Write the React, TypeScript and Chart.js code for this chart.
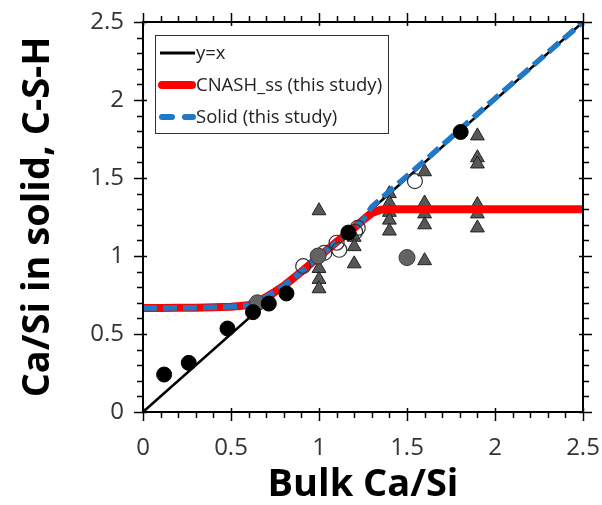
import React, { useEffect, useRef } from 'react';
import { Chart, registerables } from 'chart.js';

Chart.register(...registerables);

// ---- data ----
const identityX = [0, 2.5];
const identityY = [0, 2.5];

const curveX = [0, 0.1, 0.2, 0.3, 0.4, 0.5, 0.55, 0.6, 0.65, 0.7, 0.75, 0.8, 0.9, 1.0, 1.1, 1.2, 1.25, 1.3, 1.35, 1.4, 1.6, 2.0, 2.5];
const cnashY = [0.667, 0.667, 0.668, 0.669, 0.671, 0.675, 0.679, 0.685, 0.705, 0.738, 0.772, 0.808, 0.9, 0.995, 1.09, 1.18, 1.23, 1.275, 1.297, 1.3, 1.3, 1.3, 1.3];
const solidY = [0.667, 0.667, 0.668, 0.669, 0.671, 0.675, 0.679, 0.685, 0.705, 0.738, 0.772, 0.808, 0.9, 0.995, 1.09, 1.18, 1.23, 1.315, 1.365, 1.415, 1.61, 2.01, 2.5];

const blackX = [0.12, 0.26, 0.48, 0.625, 0.715, 0.815, 1.167, 1.805];
const blackY = [0.24, 0.315, 0.535, 0.64, 0.695, 0.76, 1.15, 1.795];

const grayX = [0.65, 0.995, 1.5];
const grayY = [0.7, 1.0, 0.99];

const openX = [0.91, 1.03, 1.1, 1.115, 1.205, 1.22, 1.545];
const openY = [0.935, 1.02, 1.085, 1.04, 1.155, 1.18, 1.48];

const triX = [1.0, 1.0, 1.0, 1.0, 1.2, 1.2, 1.2, 1.4, 1.4, 1.4, 1.4, 1.4, 1.6, 1.6, 1.6, 1.6, 1.6, 1.9, 1.9, 1.9, 1.9, 1.9, 1.9];
const triY = [1.29, 0.92, 0.85, 0.79, 1.12, 1.06, 0.95, 1.4, 1.34, 1.28, 1.23, 1.16, 1.54, 1.34, 1.27, 1.2, 0.97, 1.77, 1.63, 1.59, 1.33, 1.27, 1.18];

const axisMin = 0;
const axisMax = 2.5;
const majorStep = 0.5;
const minorStep = 0.1;

const legendLabels = ['y=x', 'CNASH_ss (this study)', 'Solid (this study)'];
const xTitle = 'Bulk Ca/Si';
const yTitle = 'Ca/Si in solid, C-S-H';

const RED = '#ff0000';
const BLUE = '#1f78c8';

const pts = (xs: number[], ys: number[]) => xs.map((x, i) => ({ x, y: ys[i] }));
const fmt = (v: any) => String(Number(Number(v).toFixed(2)));

const framePlugin = {
  id: 'frameTicks',
  afterDraw(chart: any) {
    const { ctx, chartArea } = chart;
    const { left, right, top, bottom } = chartArea;
    const xs = chart.scales.x;
    const ys = chart.scales.y;
    ctx.save();
    ctx.strokeStyle = '#000';
    ctx.lineWidth = 2;
    ctx.strokeRect(left, top, right - left, bottom - top);
    ctx.lineWidth = 1.5;
    const n = Math.round((axisMax - axisMin) / minorStep);
    const per = Math.round(majorStep / minorStep);
    const seg = (a: number, b: number, c: number, d: number) => {
      ctx.beginPath();
      ctx.moveTo(a, b);
      ctx.lineTo(c, d);
      ctx.stroke();
    };
    for (let i = 0; i <= n; i++) {
      const v = axisMin + i * minorStep;
      const major = i % per === 0;
      const inn = major ? 4 : 0;
      const out = major ? 9 : 6;
      const px = Math.round(xs.getPixelForValue(v)) + 0.5;
      seg(px, bottom - inn, px, bottom + out);
      seg(px, top + inn, px, top - out);
      const py = Math.round(ys.getPixelForValue(v)) + 0.5;
      seg(left + inn, py, left - out, py);
      seg(right - inn, py, right + out, py);
    }
    ctx.restore();
  },
};

const legendPlugin = {
  id: 'insideLegend',
  afterDatasetsDraw(chart: any) {
    const { ctx } = chart;
    const bx = 155, by = 35, bw = 233, bh = 98;
    ctx.save();
    ctx.fillStyle = '#fff';
    ctx.fillRect(bx, by, bw, bh);
    ctx.strokeStyle = '#333';
    ctx.lineWidth = 1;
    ctx.strokeRect(bx + 0.5, by + 0.5, bw, bh);
    const rows = [53, 85, 117];
    const x1 = 160, x2 = 195;
    ctx.strokeStyle = '#000';
    ctx.lineWidth = 3;
    ctx.beginPath(); ctx.moveTo(x1, rows[0]); ctx.lineTo(x2, rows[0]); ctx.stroke();
    ctx.strokeStyle = RED;
    ctx.lineWidth = 8;
    ctx.lineCap = 'round';
    ctx.beginPath(); ctx.moveTo(x1 + 2, rows[1]); ctx.lineTo(x2 - 3, rows[1]); ctx.stroke();
    ctx.strokeStyle = BLUE;
    ctx.lineWidth = 6;
    ctx.setLineDash([10, 13]);
    ctx.beginPath(); ctx.moveTo(x1 + 2, rows[2]); ctx.lineTo(x2 - 2, rows[2]); ctx.stroke();
    ctx.setLineDash([]);
    ctx.fillStyle = '#222';
    ctx.font = '18.5px "Open Sans"';
    ctx.textBaseline = 'middle';
    ctx.textAlign = 'left';
    legendLabels.forEach((t, i) => ctx.fillText(t, 196, rows[i] + 1));
    ctx.restore();
  },
};

export default function App() {
  const ref = useRef<HTMLCanvasElement | null>(null);
  useEffect(() => {
    if (!ref.current) return;
    const tickFont = { family: '"Open Sans"', size: 24 };
    const chart = new Chart(ref.current, {
      type: 'scatter',
      data: {
        datasets: [
          {
            label: 'black',
            data: pts(blackX, blackY),
            pointStyle: 'circle',
            pointRadius: 7.5,
            backgroundColor: '#000',
            borderColor: '#000',
            borderWidth: 1,
            order: 1,
          },
          {
            label: 'gray',
            data: pts(grayX, grayY),
            pointStyle: 'circle',
            pointRadius: 8,
            backgroundColor: '#636363',
            borderColor: '#3a3a3a',
            borderWidth: 1,
            order: 2,
          },
          {
            label: 'open',
            data: pts(openX, openY),
            pointStyle: 'circle',
            pointRadius: 7.5,
            backgroundColor: 'rgba(255,255,255,0)',
            borderColor: '#333',
            borderWidth: 1.2,
            order: 3,
          },
          {
            label: legendLabels[2],
            data: pts(curveX, solidY),
            showLine: true,
            pointRadius: 0,
            borderColor: BLUE,
            borderWidth: 5.5,
            borderDash: [14, 6],
            tension: 0,
            order: 4,
          },
          {
            label: legendLabels[1],
            data: pts(curveX, cnashY),
            showLine: true,
            pointRadius: 0,
            borderColor: RED,
            borderWidth: 8,
            tension: 0,
            order: 5,
          },
          {
            label: 'triangles',
            data: pts(triX, triY),
            pointStyle: 'triangle',
            pointRadius: 8,
            backgroundColor: '#575757',
            borderColor: '#222',
            borderWidth: 1,
            order: 6,
          },
          {
            label: legendLabels[0],
            data: pts(identityX, identityY),
            showLine: true,
            pointRadius: 0,
            borderColor: '#000',
            borderWidth: 2.5,
            order: 7,
          },
        ],
      },
      options: {
        responsive: false,
        animation: false,
        devicePixelRatio: 1,
        layout: { padding: { top: 22, right: 19, left: 0, bottom: 0 } },
        plugins: { legend: { display: false }, tooltip: { enabled: false } },
        scales: {
          x: {
            type: 'linear',
            min: axisMin,
            max: axisMax,
            grid: { display: false },
            border: { display: false },
            ticks: { stepSize: majorStep, font: tickFont, color: '#333', padding: 14, maxRotation: 0, callback: fmt },
            title: {
              display: true,
              text: xTitle,
              color: '#000',
              font: { family: '"Open Sans"', size: 38, weight: 'bold', lineHeight: 1.0 },
              padding: { top: 0, bottom: 1 },
            },
            afterFit: (s: any) => { s.height = 93; s.paddingLeft = 0; s.paddingRight = 0; },
          },
          y: {
            type: 'linear',
            min: axisMin,
            max: axisMax,
            grid: { display: false },
            border: { display: false },
            ticks: { stepSize: majorStep, font: tickFont, color: '#333', padding: 11, callback: fmt },
            title: {
              display: true,
              text: yTitle,
              color: '#000',
              font: { family: '"Open Sans"', size: 38, weight: 'bold', lineHeight: 1.0 },
              padding: { top: 19, bottom: 0 },
            },
            afterFit: (s: any) => { s.width = 143; s.paddingTop = 0; s.paddingBottom = 0; },
          },
        },
      },
      plugins: [legendPlugin, framePlugin],
    } as any);
    return () => chart.destroy();
  }, []);
  return (
    <div style={{ position: 'fixed', left: 0, top: 0, width: 602, height: 505, background: '#fff' }}>
      <canvas ref={ref} width={602} height={505} style={{ display: 'block' }} />
    </div>
  );
}
